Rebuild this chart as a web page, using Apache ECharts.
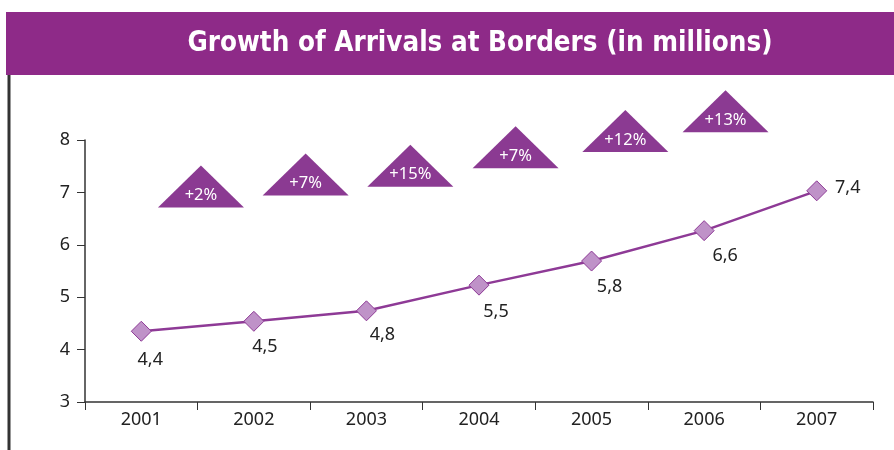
<!DOCTYPE html>
<html>
<head>
<meta charset="utf-8">
<script src="https://cdn.jsdelivr.net/npm/echarts@6/dist/echarts.min.js"></script>
<style>
html,body{margin:0;padding:0;background:#fff;}
#chart{width:894px;height:450px;}
</style>
</head>
<body>
<div id="chart"></div>
<script>
const titleText = 'Growth of Arrivals at Borders (in millions)';
const years = ['2001', '2002', '2003', '2004', '2005', '2006', '2007'];
const values = [4.35, 4.54, 4.74, 5.23, 5.69, 6.27, 7.03];
const valueLabels = ['4,4', '4,5', '4,8', '5,5', '5,8', '6,6', '7,4'];
const growthLabels = ['+2%', '+7%', '+15%', '+7%', '+12%', '+13%'];
const growthX = [1.03, 1.96, 2.89, 3.825, 4.80, 5.69];
const growthY = [6.71, 6.94, 7.11, 7.46, 7.77, 8.15];

// label styling offsets (px) per point
const labelOffsets = [[9, 29], [11, 26], [16, 24], [17, 27], [18, 26], [21, 25], [31, -3]];

const purple = '#8e2a88';
const triPurple = '#8b3a92';
const linePurple = '#8e3a96';
const textFont = '"Noto Sans", "Open Sans", sans-serif';

const chart = echarts.init(document.getElementById('chart'), null, {renderer: 'canvas'});

const option = {
  animation: false,
  backgroundColor: '#ffffff',
  graphic: [
    {type: 'rect', shape: {x: 6, y: 12, width: 888, height: 63}, style: {fill: purple}, z: 0},
    {type: 'text', x: 480, y: 44, style: {text: titleText, fill: '#ffffff', font: 'bold 27.5px "Liberation Sans Narrow", "DejaVu Sans Condensed", sans-serif', align: 'center', verticalAlign: 'middle'}, z: 1},
    {type: 'line', shape: {x1: 9, y1: 75, x2: 9, y2: 450}, style: {stroke: '#333333', lineWidth: 3}, z: 1}
  ],
  grid: {left: 85, right: 21, top: 140, height: 262, containLabel: false},
  xAxis: [
    {
      type: 'category',
      data: years,
      boundaryGap: true,
      axisLine: {show: true, lineStyle: {color: '#333333', width: 1.5}},
      axisTick: {show: true, length: 8, lineStyle: {color: '#333333', width: 1}},
      axisLabel: {color: '#222222', fontSize: 18, fontFamily: textFont, margin: 9},
      splitLine: {show: false}
    },
    {
      type: 'value', min: 0, max: 7, show: false
    }
  ],
  yAxis: {
    type: 'value',
    min: 3, max: 8, interval: 1,
    axisLine: {show: true, lineStyle: {color: '#333333', width: 1.5}},
    axisTick: {show: true, length: 8, inside: false, lineStyle: {color: '#333333', width: 1}},
    axisLabel: {color: '#222222', fontSize: 18, fontFamily: textFont, margin: 15},
    splitLine: {show: false}
  },
  series: [
    {
      type: 'line',
      xAxisIndex: 0,
      yAxisIndex: 0,
      data: values.map((v, i) => ({
        value: v,
        label: {
          show: true,
          formatter: valueLabels[i],
          position: 'inside',
          offset: labelOffsets[i],
          color: '#222222',
          fontSize: 18,
          fontFamily: textFont
        }
      })),
      symbol: 'diamond',
      symbolSize: [20, 20],
      lineStyle: {color: linePurple, width: 2.5},
      itemStyle: {color: '#bf92c8', borderColor: '#8e3a96', borderWidth: 1},
      z: 3
    },
    {
      type: 'custom',
      xAxisIndex: 1,
      yAxisIndex: 0,
      clip: false,
      data: growthX.map((x, i) => [x, growthY[i], growthLabels[i]]),
      renderItem: function (params, api) {
        const p = api.coord([api.value(0), api.value(1)]);
        const cx = p[0], by = p[1];
        const label = growthLabels[params.dataIndex];
        return {
          type: 'group',
          children: [
            {
              type: 'polygon',
              shape: {points: [[cx - 43, by], [cx + 43, by], [cx, by - 42]]},
              style: {fill: triPurple}
            },
            {
              type: 'text',
              x: cx,
              y: by - 12,
              style: {text: label, fill: '#ffffff', font: '16.5px ' + textFont, align: 'center', verticalAlign: 'middle'}
            }
          ]
        };
      },
      z: 2
    }
  ]
};

chart.setOption(option);
</script>
</body>
</html>
